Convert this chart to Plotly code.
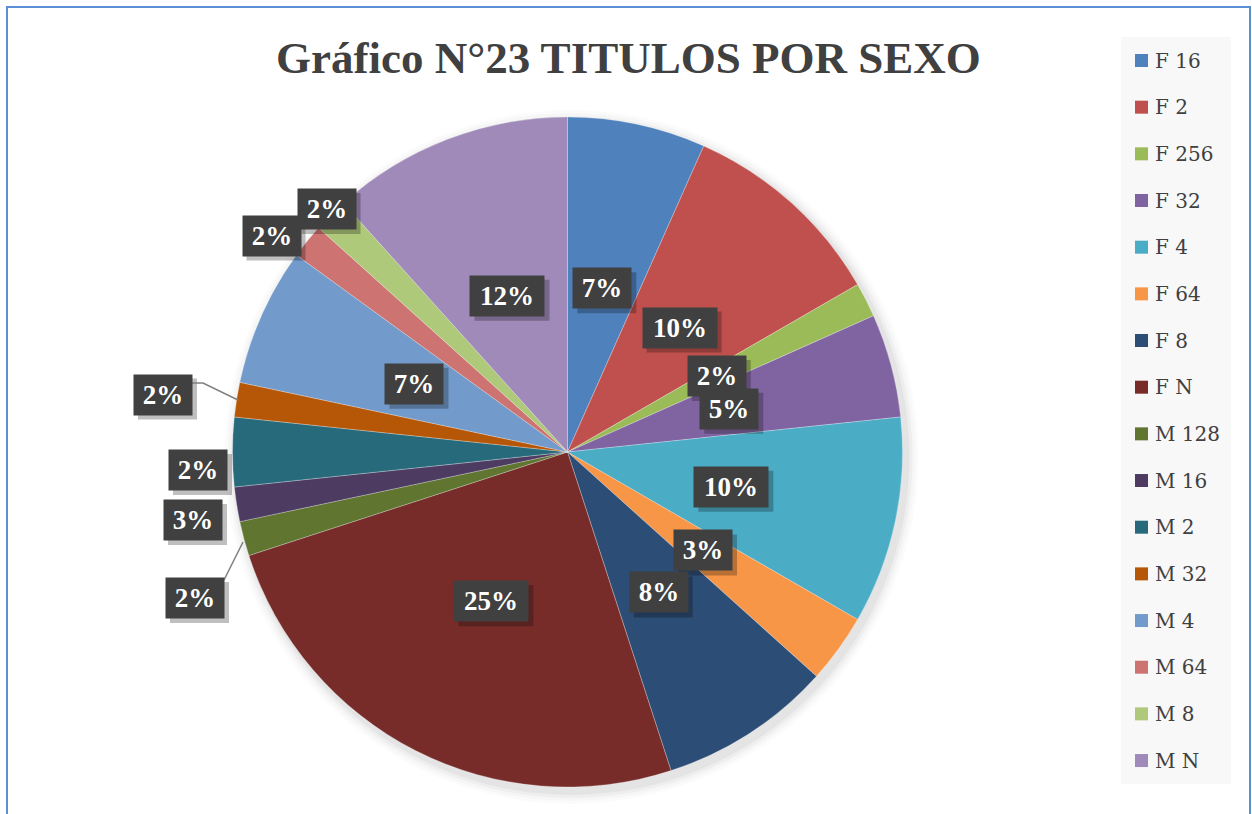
import math
import plotly.graph_objects as go

# ---------------- data ----------------
labels = ["F 16", "F 2", "F 256", "F 32", "F 4", "F 64", "F 8", "F N",
          "M 128", "M 16", "M 2", "M 32", "M 4", "M 64", "M 8", "M N"]
counts = [4, 6, 1, 3, 6, 2, 5, 15, 1, 1, 2, 1, 4, 1, 1, 7]
colors = ["#4F81BD", "#C0504D", "#9BBB59", "#8064A2", "#4BACC6", "#F79646",
          "#2C4D75", "#772C2A", "#5F7530", "#4D3B62", "#276A7C", "#B65708",
          "#729ACA", "#CD7371", "#AFC97A", "#9F8AB9"]
title_text = "Gráfico N°23 TITULOS POR SEXO"

# ---------------- layout constants ----------------
W, H = 1252, 814
CX, CY, R = 567.5, 452.0, 335.0
SERIF = "Liberation Serif, Cambria, DejaVu Serif, serif"
LEGEND_FONT = "DejaVu Serif, Liberation Serif, serif"
TXT = "#404040"

# outside label positions (pixel centres) for the small slices
outside_pos = {"M 128": (195, 598), "M 16": (198, 470), "M 2": (193, 520),
               "M 32": (163, 394.5), "M 64": (271.5, 235.5), "M 8": (326.5, 209)}


def fx(x):
    return x / W


def fy(y):
    return 1 - y / H


fig = go.Figure()
fig.add_trace(go.Pie(
    labels=labels, values=counts, sort=False, direction="clockwise", rotation=0,
    marker=dict(colors=colors, line=dict(color="rgba(255,255,255,0.45)", width=0.6)),
    textinfo="none", hoverinfo="label+percent", showlegend=False,
    domain=dict(x=[fx(CX - R), fx(CX + R)], y=[fy(CY + R), fy(CY - R)]),
))

shapes = []
annotations = []

# chart border
shapes.append(dict(type="rect", xref="paper", yref="paper",
                   x0=fx(7), x1=fx(1250), y0=fy(830), y1=fy(7),
                   line=dict(color="#5B8FD6", width=2), fillcolor="rgba(0,0,0,0)",
                   layer="below"))

# soft pie shadow
for dr, a in [(12, 0.015), (9, 0.02), (6, 0.03), (3, 0.04)]:
    ox, oy = 4, 5
    shapes.append(dict(type="circle", xref="paper", yref="paper",
                       x0=fx(CX + ox - R - dr), x1=fx(CX + ox + R + dr),
                       y0=fy(CY + oy + R + dr), y1=fy(CY + oy - R - dr),
                       fillcolor=f"rgba(0,0,0,{a})", line=dict(width=0), layer="below"))

# legend background
shapes.append(dict(type="rect", xref="paper", yref="paper",
                   x0=fx(1121), x1=fx(1231), y0=fy(784), y1=fy(37),
                   fillcolor="#F8F8F8", line=dict(width=0), layer="below"))

# legend items
for i, (lab, col) in enumerate(zip(labels, colors)):
    yc = 60.5 + i * 46.67
    shapes.append(dict(type="rect", xref="paper", yref="paper",
                       x0=fx(1135), x1=fx(1148), y0=fy(yc + 6.5), y1=fy(yc - 6.5),
                       fillcolor=col, line=dict(width=0)))
    annotations.append(dict(text=lab, xref="paper", yref="paper", x=fx(1153), y=fy(yc),
                            xanchor="left", yanchor="middle", showarrow=False,
                            font=dict(family=LEGEND_FONT, size=20, color=TXT)))

# title
annotations.append(dict(text=f"<b>{title_text}</b>", xref="paper", yref="paper",
                        x=fx(628), y=fy(58), xanchor="center", yanchor="middle",
                        showarrow=False, font=dict(family=SERIF, size=45, color=TXT)))

# data labels
total = sum(counts)
cum = 0
for lab, c in zip(labels, counts):
    mid = (cum + c / 2) / total * 2 * math.pi
    cum += c
    pct = f"{round(100 * c / total)}%"
    if lab in outside_pos:
        x, y = outside_pos[lab]
    else:
        x = CX + 0.5 * R * math.sin(mid)
        y = CY - 0.5 * R * math.cos(mid)
    bw = 58 if len(pct) == 2 else 74
    bh = 40
    # shadow
    shapes.append(dict(type="rect", xref="paper", yref="paper", layer="above",
                       x0=fx(x - bw / 2 + 4), x1=fx(x + bw / 2 + 5),
                       y0=fy(y + bh / 2 + 5), y1=fy(y - bh / 2 + 4),
                       fillcolor="rgba(0,0,0,0.25)", line=dict(width=0)))
    annotations.append(dict(text=f"<b>{pct}</b>", xref="paper", yref="paper",
                            x=fx(x), y=fy(y), xanchor="center", yanchor="middle",
                            showarrow=False, width=bw, height=bh, borderpad=0,
                            bgcolor="#404040", align="center", valign="middle",
                            font=dict(family=SERIF, size=27, color="white")))

# leader lines
shapes.append(dict(type="path", xref="paper", yref="paper", layer="above",
                   path=f"M {fx(192)},{fy(383)} L {fx(203)},{fy(383)} L {fx(238)},{fy(400)}",
                   line=dict(color="#808080", width=1.5)))
shapes.append(dict(type="line", xref="paper", yref="paper", layer="above",
                   x0=fx(224), y0=fy(580), x1=fx(243), y1=fy(542),
                   line=dict(color="#808080", width=1.5)))

fig.update_layout(
    width=W, height=H, margin=dict(l=0, r=0, t=0, b=0),
    paper_bgcolor="white", plot_bgcolor="white",
    shapes=shapes, annotations=annotations, showlegend=False,
)

fig.write_html("out.html", config={"displayModeBar": False},
               post_script="document.body.style.margin='0';document.body.style.overflow='hidden';")
